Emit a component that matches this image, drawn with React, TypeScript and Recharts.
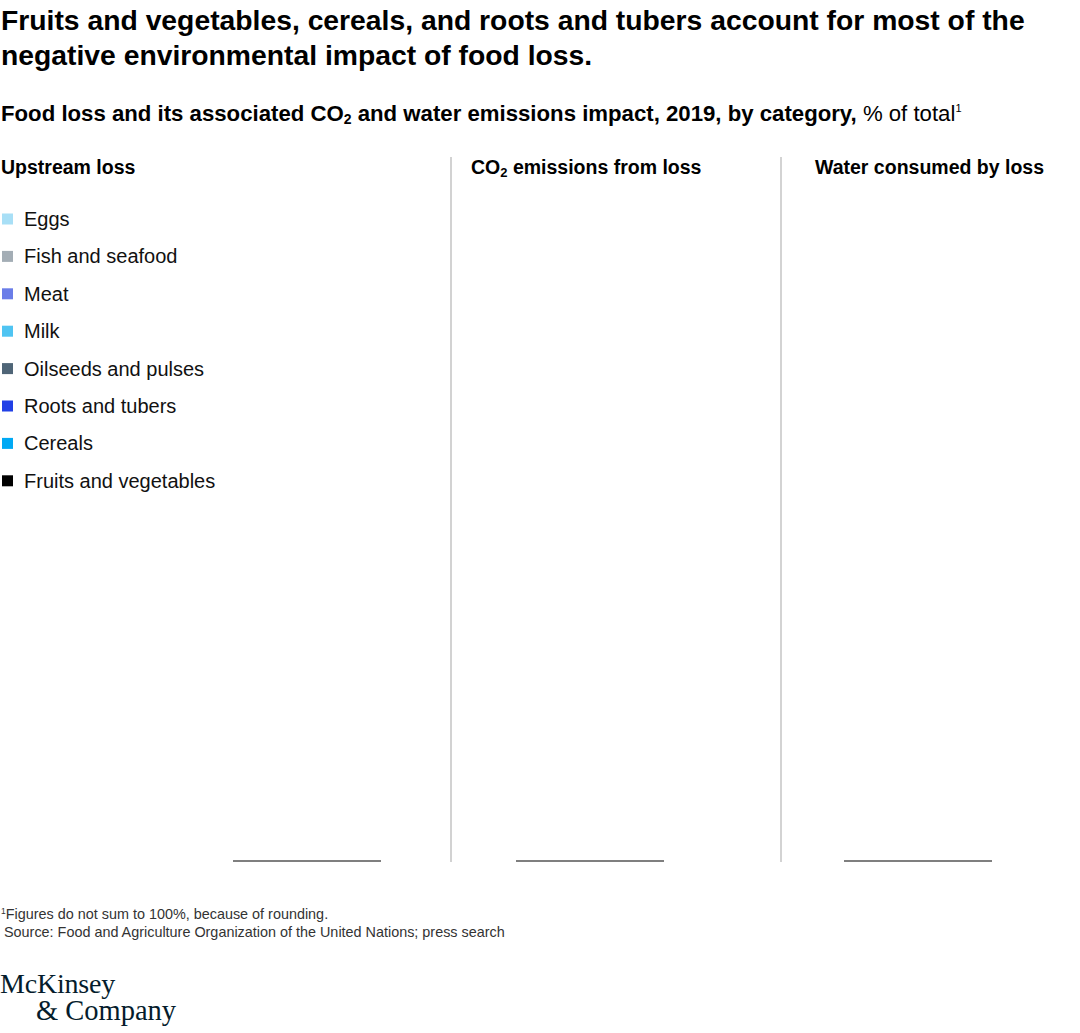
import React from "react";
import { BarChart, Bar, XAxis, YAxis } from "recharts";

// Categories (stack order bottom -> top) and colours
const categories = [
  "Fruits and vegetables",
  "Cereals",
  "Roots and tubers",
  "Oilseeds and pulses",
  "Milk",
  "Meat",
  "Fish and seafood",
  "Eggs",
];
const colors = ["#000000", "#00a9f4", "#2140e6", "#4f6577", "#4fc4f2", "#6a7de8", "#a3adb5", "#a8dff6"];
const legendOrder = [
  "Eggs",
  "Fish and seafood",
  "Meat",
  "Milk",
  "Oilseeds and pulses",
  "Roots and tubers",
  "Cereals",
  "Fruits and vegetables",
];

// Series values, % of total (estimated; bars are not visible in the reference)
const upstreamLoss = [41, 20, 25, 5, 4, 3, 1, 1];
const co2Emissions = [32, 26, 14, 7, 8, 10, 2, 1];
const waterConsumed = [35, 40, 9, 10, 2, 3, 0, 1];

const panels = [
  { key: "upstream", label: "Upstream loss", values: upstreamLoss },
  { key: "co2", label: "CO₂ emissions from loss", values: co2Emissions },
  { key: "water", label: "Water consumed by loss", values: waterConsumed },
];

const buildRow = (label: string, values: number[]) => {
  const row: Record<string, string | number> = { name: label };
  categories.forEach((c, i) => (row[c] = values[i]));
  return [row];
};

const SANS = "'Liberation Sans', Arial, Helvetica, sans-serif";
const SERIF = "'Liberation Serif', 'Times New Roman', serif";

const chartLefts = [233, 516, 844];

function PanelChart({ index }: { index: number }) {
  const p = panels[index];
  const data = buildRow(p.label, p.values);
  return (
    <div style={{ position: "absolute", left: chartLefts[index], top: 230 }}>
      <BarChart width={148} height={632} data={data} margin={{ top: 0, right: 0, bottom: 0, left: 0 }} barCategoryGap={0}>
        <XAxis dataKey="name" tick={false} tickLine={false} height={1} axisLine={{ stroke: "#555555", strokeWidth: 1.5 }} />
        <YAxis hide domain={[0, 100]} />
        {categories.map((c, i) => (
          <Bar key={c} dataKey={c} stackId="a" fill={colors[i]} fillOpacity={0} isAnimationActive={false} />
        ))}
      </BarChart>
    </div>
  );
}

export default function App() {
  return (
    <div style={{ position: "absolute", left: 0, top: 0, width: 1080, height: 1033, background: "#fff", overflow: "hidden" }}>
      <svg width={1080} height={1033} style={{ position: "absolute", left: 0, top: 0 }}>
        <g fontFamily={SANS} fill="#000">
          <text x={1} y={30} fontSize={28.3} fontWeight={700}>
            Fruits and vegetables, cereals, and roots and tubers account for most of the
          </text>
          <text x={1} y={65} fontSize={28.3} fontWeight={700}>
            negative environmental impact of food loss.
          </text>
          <text x={1} y={121} fontSize={22.2} fontWeight={700}>
            Food loss and its associated CO<tspan fontSize={14} dy={3}>2</tspan>
            <tspan dy={-3}> and water emissions impact, 2019, by category, </tspan>
            <tspan fontWeight={400}>% of total</tspan>
            <tspan fontWeight={400} fontSize={11} dy={-9}>1</tspan>
          </text>
          <text x={1} y={174} fontSize={19.5} fontWeight={700}>
            Upstream loss
          </text>
          <text x={471} y={174} fontSize={19.5} fontWeight={700}>
            CO<tspan fontSize={13} dy={3}>2</tspan>
            <tspan dy={-3}> emissions from loss</tspan>
          </text>
          <text x={815} y={174} fontSize={19.5} fontWeight={700}>
            Water consumed by loss
          </text>
          {legendOrder.map((name, i) => {
            const cy = 219 + i * 37.4;
            const ci = categories.indexOf(name);
            return (
              <g key={name}>
                <rect x={2} y={cy - 5.5} width={11} height={11} fill={colors[ci]} />
                <text x={24} y={cy + 7} fontSize={20} fill="#111">
                  {name}
                </text>
              </g>
            );
          })}
          <text x={1} y={919} fontSize={14.4} fill="#333">
            <tspan fontSize={8.5} dy={-5}>1</tspan>
            <tspan dy={5}>Figures do not sum to 100%, because of rounding.</tspan>
          </text>
          <text x={4} y={937} fontSize={14.4} fill="#333">
            Source: Food and Agriculture Organization of the United Nations; press search
          </text>
        </g>
        <g fontFamily={SERIF} fill="#051c2c">
          <text x={0} y={993} fontSize={28} letterSpacing={-0.2}>McKinsey</text>
          <text x={36} y={1020} fontSize={28.5} letterSpacing={0}>&amp; Company</text>
        </g>
        <rect x={450} y={157} width={2} height={705} fill="#d2d2d2" />
        <rect x={780.5} y={157} width={1} height={705} fill="#a8a8a8" />
      </svg>
      {panels.map((p, i) => (
        <PanelChart key={p.key} index={i} />
      ))}
    </div>
  );
}
